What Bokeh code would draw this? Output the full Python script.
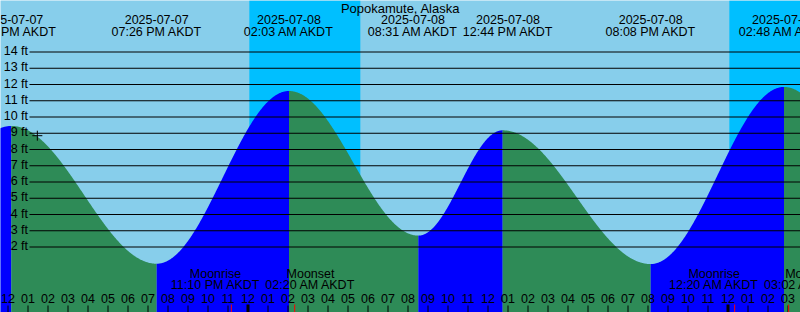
from datetime import datetime
import numpy as np
from bokeh.plotting import figure
from bokeh.models import Range1d
from bokeh.embed import file_html
from bokeh.resources import INLINE
from bokeh.core.properties import value

# ---------------- data ----------------
title = "Popokamute, Alaska"
tz = "AKDT"
chart_start = "2025-07-07 12:00 PM"

# tide extremes shown on the chart
tide_dates = ["2025-07-07", "2025-07-07", "2025-07-08", "2025-07-08",
              "2025-07-08", "2025-07-08", "2025-07-09"]
tide_times = ["12:10 PM", "07:26 PM", "02:03 AM", "08:31 AM",
              "12:44 PM", "08:08 PM", "02:48 AM"]
tide_heights = [9.45, 0.97, 11.60, 2.70, 9.18, 0.95, 11.85]

# neighbouring extremes just outside the window (shape of the curve at the edges)
edge_dates = ["2025-07-07", "2025-07-09"]
edge_times = ["06:05 AM", "09:10 AM"]
edge_heights = [2.5, 3.0]

# night (sunset -> sunrise)
night_start = ["2025-07-08 12:04 AM", "2025-07-09 12:04 AM"]
night_end = ["2025-07-08 05:37 AM", "2025-07-09 05:40 AM"]

# moon events
moon_dates = ["2025-07-07", "2025-07-08", "2025-07-09", "2025-07-09"]
moon_times = ["11:10 PM", "02:20 AM", "12:20 AM", "03:02 AM"]
moon_names = ["Moonrise", "Moonset", "Moonrise", "Moonset"]

# gridline levels (ft)
levels = [2, 3, 4, 5, 6, 7, 8, 9, 10, 11, 12, 13, 14]

# small "+" mark
plus_time = "2025-07-07 01:28 PM"
plus_level = 8.85

# ---------------- layout ----------------
W, H = 800, 312
X0, PX_PER_H = 7.5, 20.0      # pixel of chart_start, pixels per hour
Y0, PX_PER_FT = 279.0, 16.25  # pixel of 0 ft, pixels per foot
FONT = "Liberation Sans"
FS = "12.5px"
DAY, NIGHT = "#87CEEB", "#00BFFF"
FLOOD, EBB = "#0000FF", "#2E8B57"
LABEL_W = 95.0

def px2h(x):
    return (x - X0) / PX_PER_H

def px2ft(y):
    return (Y0 - y) / PX_PER_FT

base = datetime.strptime(chart_start, "%Y-%m-%d %I:%M %p")

def hours(stamp):
    return (datetime.strptime(stamp, "%Y-%m-%d %I:%M %p") - base).total_seconds() / 3600.0

XMIN, XMAX = px2h(0), px2h(W)
YMIN, YMAX = px2ft(H), px2ft(0)

p = figure(width=W, height=H, output_backend="svg", toolbar_location=None,
           x_range=Range1d(XMIN, XMAX), y_range=Range1d(YMIN, YMAX),
           x_axis_location=None, y_axis_location=None,
           min_border=0, background_fill_color=DAY, border_fill_color=DAY,
           outline_line_color=None)
p.grid.visible = False

# night shading
ns = [hours(s) for s in night_start]
ne = [hours(s) for s in night_end]
p.quad(left=ns, right=ne, bottom=YMIN, top=YMAX, fill_color=NIGHT, line_color=None)

# tide fill between extremes
ext_t = [hours(d + " " + t) for d, t in zip(edge_dates[:1] + tide_dates + edge_dates[1:],
                                            edge_times[:1] + tide_times + edge_times[1:])]
ext_h = edge_heights[:1] + tide_heights + edge_heights[1:]
for i in range(len(ext_t) - 1):
    t0, t1, h0, h1 = ext_t[i], ext_t[i + 1], ext_h[i], ext_h[i + 1]
    tt = np.linspace(t0, t1, 300)
    yy = h0 + (h1 - h0) * (1 - np.cos(np.pi * (tt - t0) / (t1 - t0))) / 2
    p.varea(x=tt, y1=np.full_like(tt, YMIN), y2=yy,
            fill_color=FLOOD if h1 > h0 else EBB)

def txt(x, y_px, text, align="center", size=FS):
    # y_px: screen row of the visual centre of the capitals
    p.text(x=x, y=[px2ft(yp - 0.3) for yp in y_px], text=text, text_font=value(FONT),
           text_font_size=size, text_align=align, text_baseline="middle",
           text_color="black")

# horizontal level lines + labels
p.segment(x0=[px2h(29)] * len(levels), x1=[XMAX] * len(levels), y0=levels, y1=levels,
          line_color="black", line_width=1)
txt([px2h(27.5)] * len(levels), [Y0 - PX_PER_FT * l - 0.7 for l in levels],
    [f"{l} ft" for l in levels], align="right")

# plus mark
p.scatter(x=[hours(plus_time)], y=[plus_level], marker="cross", size=10,
          line_color="black", line_width=1)

def spread(centers, width):
    c = list(centers)
    for i in range(len(c) - 1):
        gap = c[i + 1] - c[i]
        if gap < width:
            d = (width - gap) / 2
            c[i] -= d
            c[i + 1] += d
    return c

# title
txt([px2h(W / 2)], [8.0], [title], size="13px")

# extreme labels
tide_h = [hours(d + " " + t) for d, t in zip(tide_dates, tide_times)]
cx = spread([X0 + PX_PER_H * h for h in tide_h], LABEL_W)
lx = [px2h(c) for c in cx]
txt(lx, [19.5] * len(lx), tide_dates)
txt(lx, [31.3] * len(lx), [f"{t} {tz}" for t in tide_times])

# moon labels
moon_h = [hours(d + " " + t) for d, t in zip(moon_dates, moon_times)]
mcx = spread([X0 + PX_PER_H * h for h in moon_h], LABEL_W)
mlx = [px2h(c) for c in mcx]
txt(mlx, [273.3] * len(mlx), moon_names)
txt(mlx, [285.0] * len(mlx), [f"{t} {tz}" for t in moon_times])

# hour labels & ticks
hrs = list(range(0, int(XMAX) + 1))
hour_txt = [f"{((base.hour + h) % 12) or 12:02d}" for h in hrs]
txt(hrs, [297.8] * len(hrs), hour_txt)
thin = [h for h in hrs if (base.hour + h) % 24 != 0]
mid = [h for h in hrs if (base.hour + h) % 24 == 0]
p.segment(x0=thin, x1=thin, y0=[px2ft(305)] * len(thin), y1=[YMIN] * len(thin),
          line_color="black", line_width=1)
p.segment(x0=mid, x1=mid, y0=[px2ft(304)] * len(mid), y1=[YMIN] * len(mid),
          line_color="black", line_width=3)
p.segment(x0=moon_h, x1=moon_h, y0=[px2ft(304)] * len(moon_h), y1=[YMIN] * len(moon_h),
          line_color="red", line_width=1)

open("out.html", "w").write(file_html(p, INLINE))
